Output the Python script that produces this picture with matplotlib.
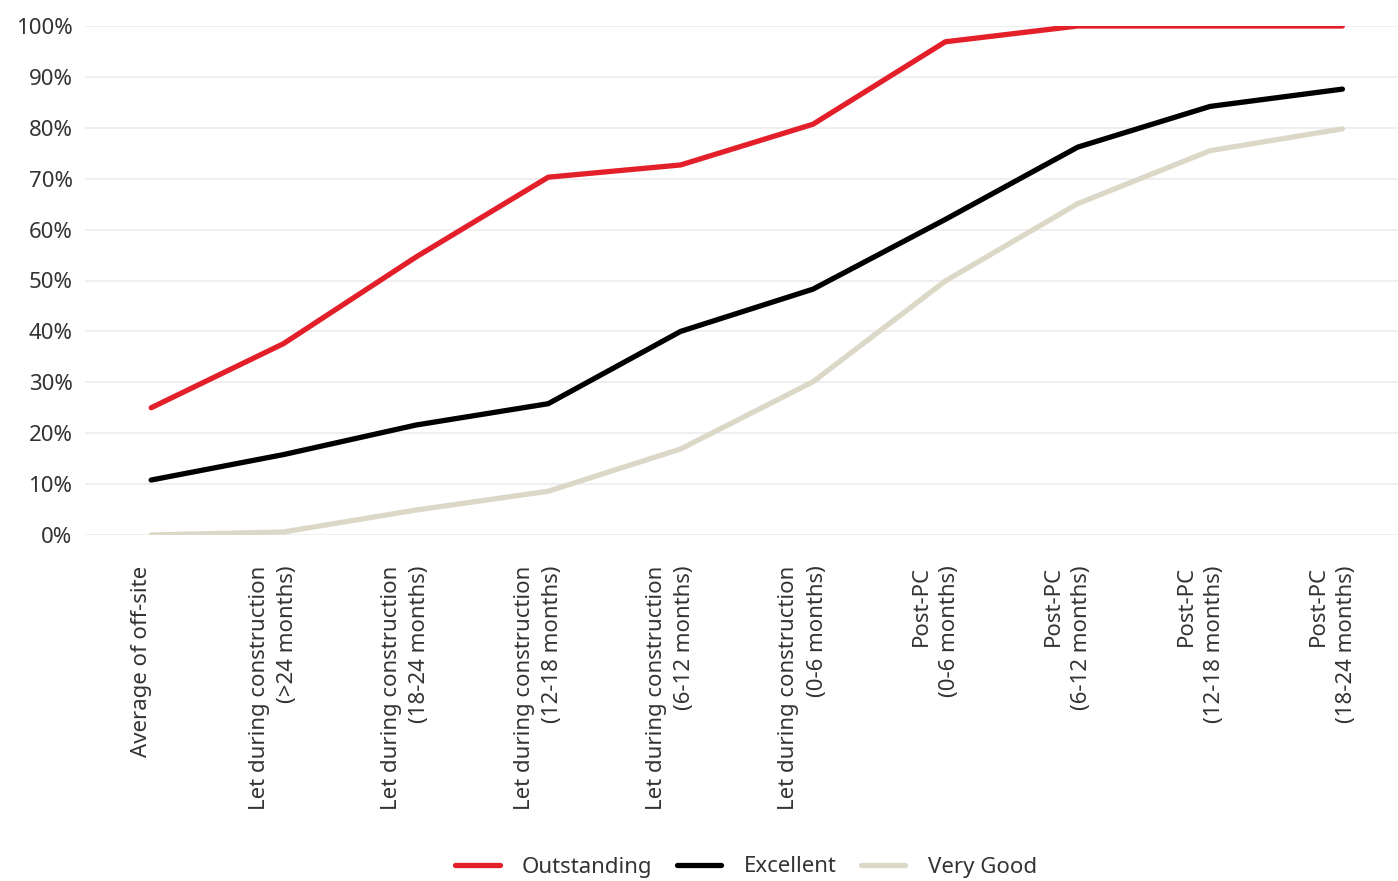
import matplotlib
matplotlib.use("Agg")
import matplotlib.pyplot as plt
import matplotlib.transforms as mtransforms
from matplotlib.ticker import FuncFormatter

categories = [
    "Average of off-site",
    "Let during construction\n(>24 months)",
    "Let during construction\n(18-24 months)",
    "Let during construction\n(12-18 months)",
    "Let during construction\n(6-12 months)",
    "Let during construction\n(0-6 months)",
    "Post-PC\n(0-6 months)",
    "Post-PC\n(6-12 months)",
    "Post-PC\n(12-18 months)",
    "Post-PC\n(18-24 months)",
]
outstanding = [25.0, 37.6, 54.6, 70.3, 72.7, 80.7, 96.9, 100, 100, 100]
excellent = [10.8, 15.8, 21.6, 25.8, 40.0, 48.3, 62.0, 76.2, 84.2, 87.6]
very_good = [0.0, 0.6, 4.9, 8.6, 16.9, 30.1, 49.9, 65.1, 75.5, 79.8]
yticks = [0, 10, 20, 30, 40, 50, 60, 70, 80, 90, 100]

plt.rcParams['font.family'] = ['Noto Sans', 'DejaVu Sans']
W, H = 1398, 881
fig = plt.figure(figsize=(W / 100, H / 100), dpi=100)
ax = fig.add_axes([85 / W, 1 - 535 / H, (W - 85) / W, (535 - 26) / H])

x = list(range(len(categories)))
lw = 3.8
ax.plot(x, outstanding, color="#e3202a", lw=lw, label="Outstanding", solid_capstyle="round", solid_joinstyle="round")
ax.plot(x, excellent, color="#000000", lw=lw, label="Excellent", solid_capstyle="round", solid_joinstyle="round")
ax.plot(x, very_good, color="#dcd8c8", lw=lw, label="Very Good", solid_capstyle="round", solid_joinstyle="round")

ax.set_xlim(-0.5, 9.42)
ax.set_ylim(0, 100)
ax.set_yticks(yticks)
ax.yaxis.set_major_formatter(FuncFormatter(lambda v, p: f"{int(v)}%"))
ax.set_xticks(x)
ax.set_xticklabels(categories, rotation=90, ha="center", va="top", multialignment="right",
                   linespacing=1.45)
ax.grid(axis="y", color="#ececec", lw=1.2)
ax.set_axisbelow(True)
for s in ax.spines.values():
    s.set_visible(False)
ax.tick_params(axis="x", length=0, pad=22, labelsize=16, labelcolor="#333333")
ax.tick_params(axis="y", length=0, pad=9, labelsize=16, labelcolor="#333333")

offset = mtransforms.ScaledTranslation(-10 / 100, 0, fig.dpi_scale_trans)
for lab in ax.get_xticklabels():
    lab.set_transform(lab.get_transform() + offset)

leg = fig.legend(loc="center", bbox_to_anchor=(746 / W, 1 - 867 / H), ncol=3, frameon=False,
                 fontsize=16, handlelength=2.0, handletextpad=1.0, columnspacing=1.1,
                 labelcolor="#333333")

fig.savefig("out.png", dpi=100, facecolor="white")
